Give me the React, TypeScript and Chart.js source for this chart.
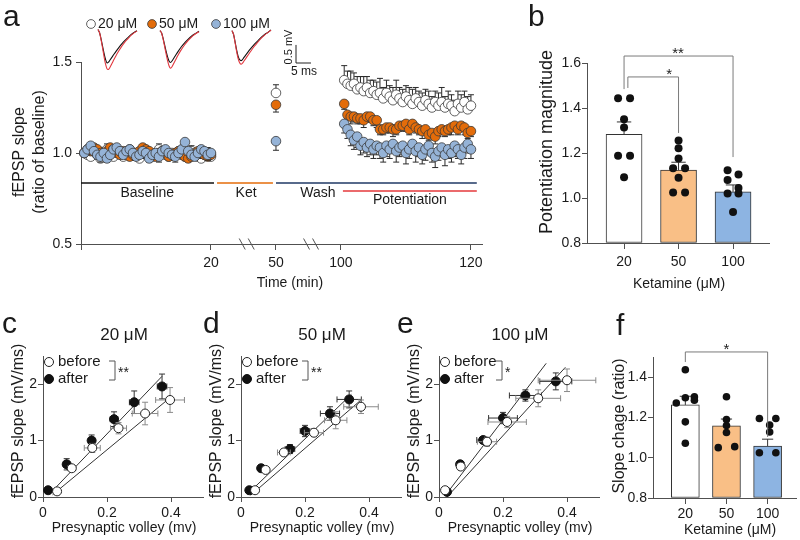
import React, { useEffect, useRef } from 'react';
import { Chart, registerables } from 'chart.js';

Chart.register(...registerables);

const W = 800;
const H = 540;
const FONT = '"Liberation Sans", Arial, Helvetica, sans-serif';
const TXT = '#1a1a1a';
const AX = '#505050';
Chart.defaults.font.family = FONT;
Chart.defaults.color = TXT;

/* ================= Panel a : time course ================= */
const baselineTimes = [0.5, 1, 1.5, 2, 2.5, 3, 3.5, 4, 4.5, 5, 5.5, 6, 6.5, 7, 7.5, 8, 8.5, 9, 9.5, 10, 10.5, 11, 11.5, 12, 12.5, 13, 13.5, 14, 14.5, 15, 15.5, 16, 16.5, 17, 17.5, 18, 18.5, 19, 19.5, 20];
const ketTimes = [50];
const potTimes = [100.5, 101, 101.5, 102, 102.5, 103, 103.5, 104, 104.5, 105, 105.5, 106, 106.5, 107, 107.5, 108, 108.5, 109, 109.5, 110, 110.5, 111, 111.5, 112, 112.5, 113, 113.5, 114, 114.5, 115, 115.5, 116, 116.5, 117, 117.5, 118, 118.5, 119, 119.5, 120];

const fepsp20Baseline = [1.00, 0.99, 0.98, 1.01, 0.99, 0.97, 1.00, 1.02, 0.99, 0.98, 1.01, 1.00, 0.98, 0.99, 1.02, 1.00, 0.99, 0.97, 1.00, 1.01, 0.99, 0.98, 1.00, 1.02, 1.01, 0.99, 0.98, 1.00, 0.99, 1.01, 1.00, 0.98, 0.99, 1.01, 1.00, 0.98, 0.97, 0.99, 1.00, 0.98];
const fepsp50Baseline = [1.00, 1.02, 1.01, 1.03, 1.02, 1.00, 0.99, 1.01, 1.03, 1.02, 1.00, 0.99, 1.01, 1.00, 0.98, 0.99, 1.00, 1.01, 1.03, 1.02, 1.01, 0.99, 0.98, 1.00, 1.01, 1.00, 0.98, 0.99, 1.00, 1.01, 0.99, 0.98, 0.97, 0.98, 0.99, 1.01, 1.00, 0.99, 0.98, 0.99];
const fepsp100Baseline = [1.00, 1.02, 1.04, 1.01, 0.99, 0.98, 1.00, 0.97, 0.99, 1.02, 1.03, 1.01, 0.99, 1.01, 1.02, 1.00, 0.98, 0.99, 1.01, 1.00, 0.97, 0.99, 1.00, 0.98, 1.01, 1.02, 1.00, 0.99, 0.98, 1.00, 1.02, 1.06, 1.01, 0.99, 0.98, 1.00, 1.02, 1.01, 0.99, 1.00];
const sem20Baseline = [0.02, 0.02, 0.03, 0.02, 0.02, 0.02, 0.03, 0.03, 0.02, 0.02, 0.02, 0.03, 0.02, 0.02, 0.02, 0.02, 0.02, 0.02, 0.03, 0.02, 0.02, 0.02, 0.02, 0.03, 0.02, 0.02, 0.02, 0.02, 0.02, 0.02, 0.02, 0.02, 0.02, 0.03, 0.02, 0.02, 0.02, 0.02, 0.03, 0.02];
const sem50Baseline = [0.02, 0.02, 0.02, 0.03, 0.02, 0.02, 0.02, 0.02, 0.03, 0.02, 0.02, 0.02, 0.02, 0.02, 0.02, 0.03, 0.02, 0.02, 0.02, 0.02, 0.02, 0.03, 0.02, 0.02, 0.02, 0.02, 0.02, 0.02, 0.03, 0.02, 0.02, 0.02, 0.02, 0.02, 0.03, 0.02, 0.02, 0.02, 0.02, 0.02];
const sem100Baseline = [0.02, 0.03, 0.02, 0.02, 0.02, 0.03, 0.02, 0.02, 0.02, 0.02, 0.03, 0.02, 0.02, 0.02, 0.03, 0.02, 0.02, 0.02, 0.02, 0.03, 0.02, 0.02, 0.02, 0.03, 0.02, 0.02, 0.02, 0.02, 0.03, 0.02, 0.02, 0.03, 0.02, 0.02, 0.02, 0.03, 0.02, 0.02, 0.03, 0.02];

const fepsp20Ket = [1.33];
const fepsp50Ket = [1.265];
const fepsp100Ket = [1.065];
const sem20Ket = [0.045];
const sem50Ket = [0.04];
const sem100Ket = [0.05];

const fepsp20Potentiation = [1.40, 1.38, 1.37, 1.38, 1.35, 1.36, 1.34, 1.36, 1.33, 1.34, 1.32, 1.33, 1.30, 1.33, 1.31, 1.29, 1.32, 1.30, 1.28, 1.31, 1.29, 1.27, 1.30, 1.28, 1.26, 1.29, 1.27, 1.25, 1.28, 1.26, 1.28, 1.25, 1.27, 1.26, 1.23, 1.27, 1.25, 1.28, 1.24, 1.26];
const fepsp50Potentiation = [1.27, 1.21, 1.20, 1.20, 1.19, 1.19, 1.18, 1.20, 1.20, 1.18, 1.18, 1.13, 1.13, 1.14, 1.14, 1.13, 1.13, 1.15, 1.15, 1.16, 1.13, 1.16, 1.14, 1.13, 1.12, 1.13, 1.10, 1.11, 1.09, 1.12, 1.13, 1.12, 1.13, 1.14, 1.15, 1.13, 1.15, 1.14, 1.11, 1.12];
const fepsp100Potentiation = [1.16, 1.13, 1.10, 1.07, 1.09, 1.04, 1.06, 1.03, 1.05, 1.02, 1.04, 1.03, 1.00, 1.04, 1.02, 1.05, 1.01, 1.03, 1.04, 1.00, 1.02, 1.05, 1.01, 1.03, 0.99, 1.02, 1.04, 1.00, 0.98, 1.01, 1.03, 0.99, 1.02, 1.00, 1.04, 1.02, 0.99, 1.03, 1.05, 1.02];
const sem20Potentiation = [0.08, 0.07, 0.08, 0.06, 0.07, 0.06, 0.08, 0.06, 0.07, 0.06, 0.07, 0.08, 0.06, 0.07, 0.06, 0.07, 0.08, 0.06, 0.07, 0.06, 0.07, 0.08, 0.06, 0.06, 0.07, 0.06, 0.07, 0.06, 0.06, 0.07, 0.08, 0.06, 0.07, 0.06, 0.06, 0.07, 0.07, 0.06, 0.07, 0.06];
const sem50Potentiation = [0.03, 0.03, 0.04, 0.03, 0.03, 0.03, 0.04, 0.03, 0.03, 0.03, 0.04, 0.03, 0.03, 0.03, 0.03, 0.04, 0.03, 0.03, 0.03, 0.04, 0.03, 0.03, 0.03, 0.03, 0.04, 0.03, 0.03, 0.03, 0.04, 0.03, 0.03, 0.03, 0.03, 0.04, 0.03, 0.03, 0.03, 0.04, 0.03, 0.03];
const sem100Potentiation = [0.05, 0.05, 0.06, 0.05, 0.06, 0.05, 0.06, 0.05, 0.06, 0.05, 0.05, 0.06, 0.05, 0.06, 0.05, 0.05, 0.06, 0.05, 0.05, 0.06, 0.05, 0.05, 0.06, 0.05, 0.05, 0.06, 0.05, 0.05, 0.06, 0.05, 0.05, 0.06, 0.05, 0.05, 0.06, 0.05, 0.05, 0.06, 0.05, 0.05];

const aSeriesNames = ['20 μM', '50 μM', '100 μM'];
const aFill = ['#FFFFFF', '#E36C0A', '#95B3D7'];
const aErrDir = ['up', 'down', 'down'];

const aTickTimes = [0, 20, 50, 100, 120];
const aTickLabels = ['', '20', '50', '100', '120'];
const aYTicks = [0.5, 1.0, 1.5];
const axisBreakTimes = [36.5, 77];
// broken time axis: [real start, real end, axis start, axis end]
const timeSegments = [
  [0, 20, 0, 20],
  [20, 50, 20, 30],
  [50, 100, 30, 40],
  [100, 130, 40, 70],
];

const phaseNames = ['Baseline', 'Ket', 'Wash', 'Potentiation'];
const phaseStart = [0, 22.8, 50, 100.3];
const phaseEnd = [21.4, 48.6, 120.9, 120.9];
const phaseLevel = [0.835, 0.835, 0.835, 0.791];
const phaseLabelTime = [10.2, 36.2, 82.3, 110.6];
const phaseLabelLevel = [0.78, 0.78, 0.78, 0.742];
const phaseColors = ['#111111', '#E46C0A', '#1F3864', '#E5383B'];

// example traces (ms, mV)
const traceTimes = [0, 0.5, 1, 1.5, 2, 2.5, 3, 3.5, 4, 5, 6, 7, 8, 9, 10, 11, 12, 13];
const trace20Before = [0, -0.08, -0.25, -0.45, -0.65, -0.82, -0.92, -0.9, -0.84, -0.72, -0.6, -0.49, -0.39, -0.3, -0.22, -0.14, -0.08, -0.03];
const trace20After = [0, -0.08, -0.27, -0.5, -0.74, -0.95, -1.08, -1.1, -1.04, -0.88, -0.72, -0.58, -0.45, -0.34, -0.25, -0.16, -0.09, -0.04];
const trace50Before = [0, -0.06, -0.2, -0.38, -0.56, -0.72, -0.84, -0.88, -0.84, -0.71, -0.58, -0.46, -0.36, -0.27, -0.19, -0.12, -0.07, -0.02];
const trace50After = [0, -0.06, -0.22, -0.42, -0.63, -0.82, -0.97, -1.04, -1.0, -0.84, -0.68, -0.54, -0.42, -0.31, -0.22, -0.14, -0.08, -0.03];
const trace100Before = [0, -0.1, -0.3, -0.52, -0.7, -0.8, -0.83, -0.8, -0.74, -0.63, -0.52, -0.42, -0.33, -0.25, -0.17, -0.1, -0.05, 0.02];
const trace100After = [0, -0.1, -0.32, -0.56, -0.76, -0.88, -0.93, -0.9, -0.84, -0.72, -0.6, -0.48, -0.38, -0.28, -0.19, -0.11, -0.05, 0.01];
const scaleBarMv = 0.5;
const scaleBarMs = 5;

/* ================= Panel b ================= */
const ketamineLabels = ['20', '50', '100'];
const potentiationMean = [1.283, 1.124, 1.027];
const potentiationSem = [0.055, 0.035, 0.031];
const potentiation20 = [1.443, 1.443, 1.35, 1.313, 1.188, 1.188, 1.092];
const jitterB20 = [-0.11, 0.11, 0, 0, -0.11, 0.11, 0];
const potentiation50 = [1.256, 1.221, 1.176, 1.132, 1.132, 1.09, 1.024, 1.024];
const jitterB50 = [0, 0, 0, -0.1, 0.12, 0, -0.1, 0.12];
const potentiation100 = [1.123, 1.105, 1.08, 1.045, 1.02, 1.02, 0.938];
const jitterB100 = [-0.1, 0.1, -0.1, 0.1, -0.1, 0.1, 0];
const bBrackets = [
  { from: 0, to: 2, level: 1.631, fromEnd: 1.484, toEnd: 1.182, label: '**', labelAt: 0.99 },
  { from: 0.07, to: 1, level: 1.538, fromEnd: 1.489, toEnd: 1.289, label: '*', labelAt: 0.83 },
];

/* ================= Panel f ================= */
const slopeMean = [1.262, 1.158, 1.058];
const slopeSem = [0.043, 0.034, 0.034];
const slope20 = [1.437, 1.272, 1.298, 1.302, 1.285, 1.178, 1.072];
const jitterF20 = [0, -0.22, 0, 0.22, 0.22, 0, 0];
const slope50 = [1.303, 1.19, 1.16, 1.125, 1.05, 1.055];
const jitterF50 = [0, 0, 0, 0, -0.2, 0.2];
const slope100 = [1.195, 1.195, 1.162, 1.128, 1.025, 1.025];
const jitterF100 = [-0.2, 0.2, 0.05, 0.05, -0.2, 0.2];
const fBrackets = [
  { from: 0, to: 2, level: 1.525, fromEnd: 1.475, toEnd: 1.103, label: '*', labelAt: 1 },
];

const barFills = ['#FFFFFF', '#F9BF86', '#8DB4E2'];

/* ================= Panels c, d, e ================= */
const cBeforeVolley = [0.044, 0.09, 0.154, 0.236, 0.319, 0.397];
const cBeforeSlope = [0.10, 0.51, 0.87, 1.22, 1.48, 1.72];
const cBeforeVolleySem = [0.008, 0.012, 0.025, 0.025, 0.04, 0.045];
const cBeforeSlopeSem = [0.03, 0.05, 0.08, 0.10, 0.20, 0.22];
const cAfterVolley = [0.016, 0.074, 0.152, 0.222, 0.285, 0.372];
const cAfterSlope = [0.12, 0.58, 1.00, 1.38, 1.68, 1.96];
const cAfterVolleySem = [0.005, 0.01, 0.01, 0.012, 0.015, 0.015];
const cAfterSlopeSem = [0.03, 0.10, 0.10, 0.13, 0.20, 0.22];
const cFitBeforeX = [0.03, 0.397];
const cFitBeforeY = [0.04, 1.76];
const cFitAfterX = [0.02, 0.372];
const cFitAfterY = [0.05, 2.14];

const dBeforeVolley = [0.044, 0.077, 0.134, 0.228, 0.296, 0.375];
const dBeforeSlope = [0.12, 0.48, 0.79, 1.14, 1.36, 1.60];
const dBeforeVolleySem = [0.005, 0.01, 0.02, 0.03, 0.035, 0.054];
const dBeforeSlopeSem = [0.02, 0.04, 0.05, 0.07, 0.15, 0.12];
const dAfterVolley = [0.026, 0.063, 0.153, 0.20, 0.278, 0.338];
const dAfterSlope = [0.12, 0.51, 0.85, 1.17, 1.48, 1.73];
const dAfterVolleySem = [0.005, 0.008, 0.015, 0.015, 0.03, 0.038];
const dAfterSlopeSem = [0.02, 0.05, 0.08, 0.10, 0.12, 0.15];
const dFitBeforeX = [0.03, 0.375];
const dFitBeforeY = [0.03, 1.72];
const dFitAfterX = [0.02, 0.345];
const dFitAfterY = [0.05, 1.82];

const eBeforeVolley = [0.019, 0.068, 0.15, 0.213, 0.31, 0.40];
const eBeforeSlope = [0.12, 0.54, 0.98, 1.33, 1.75, 2.07];
const eBeforeVolleySem = [0.005, 0.01, 0.03, 0.06, 0.07, 0.09];
const eBeforeSlopeSem = [0.02, 0.05, 0.08, 0.10, 0.15, 0.20];
const eAfterVolley = [0.025, 0.066, 0.138, 0.20, 0.27, 0.365];
const eAfterSlope = [0.09, 0.58, 1.01, 1.40, 1.80, 2.05];
const eAfterVolleySem = [0.004, 0.01, 0.02, 0.045, 0.05, 0.05];
const eAfterSlopeSem = [0.02, 0.04, 0.06, 0.10, 0.10, 0.15];
const eFitBeforeX = [0.025, 0.395];
const eFitBeforeY = [0.0, 2.30];
const eFitAfterX = [0.02, 0.335];
const eFitAfterY = [0.03, 2.37];

const ioXTicks = [0, 0.2, 0.4];
const ioXLabels = ['0', '0.2', '0.4'];
const ioYTicks = [0, 1, 2];
const ioYLabels = ['0', '1', '2'];

/* ================= helpers ================= */
function txt(ctx: any, s: string, x: number, y: number, size: number, align = 'center', baseline = 'middle', rot = 0, color = TXT) {
  ctx.save();
  ctx.font = `${size}px ${FONT}`;
  ctx.fillStyle = color;
  ctx.textAlign = align;
  ctx.textBaseline = baseline;
  ctx.translate(x, y);
  if (rot) ctx.rotate(rot);
  ctx.fillText(s, 0, 0);
  ctx.restore();
}
function seg(ctx: any, x1: number, y1: number, x2: number, y2: number) {
  ctx.beginPath();
  ctx.moveTo(x1, y1);
  ctx.lineTo(x2, y2);
  ctx.stroke();
}
function disc(ctx: any, x: number, y: number, r: number, fill: string, stroke: string, lw = 0.8) {
  ctx.beginPath();
  ctx.arc(x, y, r, 0, Math.PI * 2);
  ctx.fillStyle = fill;
  ctx.fill();
  if (stroke) {
    ctx.lineWidth = lw;
    ctx.strokeStyle = stroke;
    ctx.stroke();
  }
}
function timeToAxis(t: number) {
  for (const [a, b, c, d] of timeSegments) {
    if (t <= b) return c + ((t - a) * (d - c)) / (b - a);
  }
  return 70;
}

function drawErrors(chart: any, meta: any, ds: any) {
  const e = ds.err;
  if (!e) return;
  const ctx = chart.ctx;
  const xs = chart.scales[meta.xAxisID];
  const ys = chart.scales[meta.yAxisID];
  ctx.save();
  ctx.strokeStyle = e.color;
  ctx.lineWidth = e.width || 1;
  ds.data.forEach((d: any, i: number) => {
    const px = xs.getPixelForValue(d.x);
    const py = ys.getPixelForValue(d.y);
    if (e.y && e.y[i] > 0) {
      const v = e.y[i];
      if (e.dir !== 'down') {
        const y2 = ys.getPixelForValue(d.y + v);
        seg(ctx, px, py, px, y2);
        seg(ctx, px - e.cap, y2, px + e.cap, y2);
      }
      if (e.dir !== 'up') {
        const y2 = ys.getPixelForValue(d.y - v);
        seg(ctx, px, py, px, y2);
        seg(ctx, px - e.cap, y2, px + e.cap, y2);
      }
    }
    if (e.x && e.x[i] > 0) {
      const v = e.x[i];
      const x1 = xs.getPixelForValue(d.x - v);
      const x2 = xs.getPixelForValue(d.x + v);
      seg(ctx, x1, py, x2, py);
      seg(ctx, x1, py - e.cap, x1, py + e.cap);
      seg(ctx, x2, py - e.cap, x2, py + e.cap);
    }
  });
  ctx.restore();
}

const errorBarPlugin = {
  id: 'errorBars',
  beforeDatasetDraw(chart: any, args: any) {
    const ds = chart.data.datasets[args.index];
    if (ds.err && ds.err.phase !== 'after') drawErrors(chart, args.meta, ds);
  },
  afterDatasetDraw(chart: any, args: any) {
    const ds = chart.data.datasets[args.index];
    if (ds.err && ds.err.phase === 'after') drawErrors(chart, args.meta, ds);
  },
};

type Area = { l: number; t: number; r: number; b: number };

function xAxis(area: Area, min: number, max: number, ticks: number[], labels: string[], tick: number, pad: number) {
  return {
    type: 'linear',
    position: 'bottom',
    min,
    max,
    offset: false,
    afterFit: (s: any) => { s.height = H - area.b; },
    afterBuildTicks: (s: any) => { s.ticks = ticks.map((v) => ({ value: v })); },
    ticks: {
      autoSkip: false, maxRotation: 0, minRotation: 0, padding: pad, color: TXT,
      font: { size: 14, family: FONT },
      callback: (v: number) => {
        const i = ticks.findIndex((t) => Math.abs(t - v) < 1e-9);
        return i >= 0 ? labels[i] : '';
      },
    },
    grid: { display: true, offset: false, drawOnChartArea: false, drawTicks: true, tickLength: tick, color: AX, lineWidth: 1 },
    border: { display: true, color: AX, width: 1 },
  };
}
function yAxis(area: Area, min: number, max: number, ticks: number[], labels: string[], tick: number, pad: number) {
  return {
    type: 'linear',
    position: 'left',
    min,
    max,
    afterFit: (s: any) => { s.width = area.l; },
    afterBuildTicks: (s: any) => { s.ticks = ticks.map((v) => ({ value: v })); },
    ticks: {
      autoSkip: false, padding: pad, color: TXT,
      font: { size: 14, family: FONT },
      callback: (v: number) => {
        const i = ticks.findIndex((t) => Math.abs(t - v) < 1e-9);
        return i >= 0 ? labels[i] : '';
      },
    },
    grid: { display: true, drawOnChartArea: false, drawTicks: true, tickLength: tick, color: AX, lineWidth: 1 },
    border: { display: true, color: AX, width: 1 },
  };
}
function baseOptions(area: Area, scales: any) {
  return {
    responsive: false,
    animation: false,
    events: [],
    layout: { padding: { left: 0, top: area.t, right: W - area.r, bottom: 0 } },
    plugins: { legend: { display: false }, tooltip: { enabled: false }, title: { display: false } },
    scales,
  };
}

/* ================= Panel a chart ================= */
const aTimesAll = [...baselineTimes, ...ketTimes, ...potTimes];
const aValues = [
  [...fepsp20Baseline, ...fepsp20Ket, ...fepsp20Potentiation],
  [...fepsp50Baseline, ...fepsp50Ket, ...fepsp50Potentiation],
  [...fepsp100Baseline, ...fepsp100Ket, ...fepsp100Potentiation],
];
const aSems = [
  [...sem20Baseline, ...sem20Ket, ...sem20Potentiation],
  [...sem50Baseline, ...sem50Ket, ...sem50Potentiation],
  [...sem100Baseline, ...sem100Ket, ...sem100Potentiation],
];

const panelAPlugin = {
  id: 'panelA',
  afterDraw(chart: any) {
    const ctx = chart.ctx;
    const xs = chart.scales.x;
    const ys = chart.scales.y;
    ctx.save();
    // phases
    phaseNames.forEach((name, i) => {
      ctx.strokeStyle = phaseColors[i];
      ctx.lineWidth = 1.5;
      const y = ys.getPixelForValue(phaseLevel[i]);
      seg(ctx, xs.getPixelForValue(timeToAxis(phaseStart[i])), y, xs.getPixelForValue(timeToAxis(phaseEnd[i])), y);
      txt(ctx, name, xs.getPixelForValue(timeToAxis(phaseLabelTime[i])), ys.getPixelForValue(phaseLabelLevel[i]), 14);
    });
    // axis breaks
    ctx.strokeStyle = AX;
    ctx.lineWidth = 1;
    axisBreakTimes.forEach((t) => {
      const x = xs.getPixelForValue(timeToAxis(t));
      const y = ys.bottom;
      seg(ctx, x - 7.5, y - 5.5, x - 1.5, y + 5.5);
      seg(ctx, x + 1.5, y - 5.5, x + 7.5, y + 5.5);
    });
    ctx.restore();
    // letter, titles, legend
    txt(ctx, 'a', 3, 26, 30, 'left', 'alphabetic');
    txt(ctx, 'fEPSP slope', 20, 152, 16, 'center', 'middle', -Math.PI / 2);
    txt(ctx, '(ratio of baseline)', 40, 152, 16, 'center', 'middle', -Math.PI / 2);
    txt(ctx, 'Time (min)', 290, 283, 14);
    const legX = [91, 152, 216];
    aSeriesNames.forEach((n, i) => {
      disc(ctx, legX[i], 24, 4.4, aFill[i], '#3a3a3a');
      txt(ctx, n, legX[i] + 7, 24, 14, 'left');
    });
  },
};

function makePanelA(canvas: HTMLCanvasElement) {
  const area = { l: 81, t: 62, r: 482, b: 244 };
  const uTicks = aTickTimes.map(timeToAxis);
  return new Chart(canvas as any, {
    type: 'scatter',
    data: {
      datasets: aValues.map((vals, s) => ({
        label: aSeriesNames[s],
        data: aTimesAll.map((t, i) => ({ x: timeToAxis(t), y: vals[i] })),
        pointRadius: 4.8,
        pointBackgroundColor: aFill[s],
        pointBorderColor: '#3a3a3a',
        pointBorderWidth: 0.8,
        order: 3 - s,
        clip: false,
        err: { y: aSems[s], dir: aErrDir[s], cap: 3, color: '#2a2a2a', width: 1 },
      })),
    } as any,
    options: baseOptions(area, {
      x: xAxis(area, 0, timeToAxis(121.7), uTicks, aTickLabels, 6, 5),
      y: yAxis(area, 0.5, 1.5, aYTicks, ['0.5', '1.0', '1.5'], 5, 4),
    }) as any,
    plugins: [errorBarPlugin, panelAPlugin],
  });
}

/* traces */
const scaleBarPlugin = {
  id: 'scaleBar',
  afterDraw(chart: any) {
    const ctx = chart.ctx;
    const xs = chart.scales.x;
    const ys = chart.scales.y;
    const pxMs = xs.getPixelForValue(scaleBarMs) - xs.getPixelForValue(0);
    const pxMv = ys.getPixelForValue(0) - ys.getPixelForValue(scaleBarMv);
    const x0 = 296;
    const y0 = 63;
    ctx.save();
    ctx.strokeStyle = '#222';
    ctx.lineWidth = 1;
    seg(ctx, x0, y0, x0, y0 - pxMv);
    seg(ctx, x0, y0, x0 + pxMs, y0);
    ctx.restore();
    txt(ctx, `${scaleBarMv} mV`, 289, 47, 11, 'center', 'middle', -Math.PI / 2);
    txt(ctx, `${scaleBarMs} ms`, 304, 72, 12);
  },
};
function makeTrace(box: Area, before: number[], after: number[], bar: boolean) {
  return (canvas: HTMLCanvasElement) =>
    new Chart(canvas as any, {
      type: 'line',
      data: {
        datasets: [
          { data: traceTimes.map((t, i) => ({ x: t, y: before[i] })), borderColor: '#111111', borderWidth: 1.1, pointRadius: 0, tension: 0.3, clip: false, order: 2 },
          { data: traceTimes.map((t, i) => ({ x: t, y: after[i] })), borderColor: '#E2383F', borderWidth: 1.1, pointRadius: 0, tension: 0.3, clip: false, order: 1 },
        ],
      } as any,
      options: {
        responsive: false,
        animation: false,
        events: [],
        layout: { padding: { left: box.l, top: box.t, right: W - box.r, bottom: H - box.b } },
        plugins: { legend: { display: false }, tooltip: { enabled: false } },
        scales: {
          x: { type: 'linear', display: false, min: 0, max: 13 },
          y: { type: 'linear', display: false, min: -1.2, max: 0.1 },
        },
      } as any,
      plugins: bar ? [scaleBarPlugin] : [],
    });
}
const makeTrace20 = makeTrace({ l: 98, t: 26, r: 137, b: 73 }, trace20Before, trace20After, false);
const makeTrace50 = makeTrace({ l: 160, t: 27, r: 199, b: 74 }, trace50Before, trace50After, false);
const makeTrace100 = makeTrace({ l: 232, t: 27, r: 271, b: 74 }, trace100Before, trace100After, true);

/* ================= bar panels (b, f) ================= */
function bracketPlugin(brackets: any[]) {
  return {
    id: 'brackets',
    afterDraw(chart: any) {
      const ctx = chart.ctx;
      const xs = chart.scales.x;
      const ys = chart.scales.y;
      ctx.save();
      ctx.strokeStyle = '#7a7a7a';
      ctx.lineWidth = 1;
      brackets.forEach((b) => {
        const x1 = xs.getPixelForValue(b.from);
        const x2 = xs.getPixelForValue(b.to);
        const y = ys.getPixelForValue(b.level);
        ctx.beginPath();
        ctx.moveTo(x1, ys.getPixelForValue(b.fromEnd));
        ctx.lineTo(x1, y);
        ctx.lineTo(x2, y);
        ctx.lineTo(x2, ys.getPixelForValue(b.toEnd));
        ctx.stroke();
        txt(ctx, b.label, xs.getPixelForValue(b.labelAt), y - 2, 15, 'center', 'middle');
      });
      ctx.restore();
    },
  };
}
function dotsData(groups: number[][], jitters: number[][]) {
  const out: any[] = [];
  groups.forEach((g, gi) => g.forEach((v, i) => out.push({ x: gi + jitters[gi][i], y: v })));
  return out;
}
function makeBarChart(canvas: HTMLCanvasElement, area: Area, xmin: number, xmax: number, ymax: number, yTicks: number[],
  means: number[], sems: number[], groups: number[][], jitters: number[][], barW: number, dotR: number, brackets: any[], deco: any) {
  return new Chart(canvas as any, {
    type: 'bar',
    data: {
      datasets: [
        {
          type: 'bar',
          data: means.map((m, i) => ({ x: i, y: m })),
          backgroundColor: barFills,
          borderColor: '#333333',
          borderWidth: 1,
          borderSkipped: false,
          barThickness: barW,
          base: 0.8,
          order: 2,
          err: { y: sems, dir: 'up', cap: barW * 0.2, color: '#333333', width: 1, phase: 'after' },
        },
        {
          type: 'scatter',
          data: dotsData(groups, jitters),
          pointRadius: dotR,
          pointBackgroundColor: '#111111',
          pointBorderWidth: 0,
          clip: false,
          order: 1,
        },
      ],
    } as any,
    options: baseOptions(area, {
      x: xAxis(area, xmin, xmax, [0, 1, 2], ketamineLabels, 6, area.b > 400 ? 2 : 5),
      y: yAxis(area, 0.8, ymax, yTicks, yTicks.map((v) => v.toFixed(1)), 5, 1),
    }) as any,
    plugins: [errorBarPlugin, bracketPlugin(brackets), deco],
  });
}
function makePanelB(canvas: HTMLCanvasElement) {
  const area = { l: 587, t: 63, r: 769, b: 243 };
  const deco = {
    id: 'decoB',
    afterDraw(chart: any) {
      const ctx = chart.ctx;
      txt(ctx, 'b', 528, 26, 30, 'left', 'alphabetic');
      txt(ctx, 'Potentiation magnitude', 547, 142, 18, 'center', 'middle', -Math.PI / 2);
      txt(ctx, 'Ketamine (μM)', 679, 284, 14);
    },
  };
  return makeBarChart(canvas, area, -0.68, 2.66, 1.6, [0.8, 1.0, 1.2, 1.4, 1.6], potentiationMean, potentiationSem,
    [potentiation20, potentiation50, potentiation100], [jitterB20, jitterB50, jitterB100], 36, 4, bBrackets, deco);
}
function makePanelF(canvas: HTMLCanvasElement) {
  const area = { l: 653, t: 357, r: 799, b: 498 };
  const deco = {
    id: 'decoF',
    afterDraw(chart: any) {
      const ctx = chart.ctx;
      txt(ctx, 'f', 616, 335, 30, 'left', 'alphabetic');
      txt(ctx, 'Slope chage (ratio)', 620, 426, 16, 'center', 'middle', -Math.PI / 2);
      txt(ctx, 'Ketamine (μM)', 730, 530, 14);
    },
  };
  return makeBarChart(canvas, area, -0.786, 2.69, 1.5, [0.8, 1.0, 1.2, 1.4], slopeMean, slopeSem,
    [slope20, slope50, slope100], [jitterF20, jitterF50, jitterF100], 28, 3.8, fBrackets, deco);
}

/* ================= input-output panels (c, d, e) ================= */
const ioPanels = [
  {
    area: { l: 43, t: 356, r: 203, b: 497 }, letter: 'c', letterX: 2, title: '20 μM', bracketX: 115, star: '**',
    bv: cBeforeVolley, bs: cBeforeSlope, bve: cBeforeVolleySem, bse: cBeforeSlopeSem,
    av: cAfterVolley, as: cAfterSlope, ave: cAfterVolleySem, ase: cAfterSlopeSem,
    fbx: cFitBeforeX, fby: cFitBeforeY, fax: cFitAfterX, fay: cFitAfterY,
  },
  {
    area: { l: 241, t: 356, r: 401, b: 497 }, letter: 'd', letterX: 203, title: '50 μM', bracketX: 308, star: '**',
    bv: dBeforeVolley, bs: dBeforeSlope, bve: dBeforeVolleySem, bse: dBeforeSlopeSem,
    av: dAfterVolley, as: dAfterSlope, ave: dAfterVolleySem, ase: dAfterSlopeSem,
    fbx: dFitBeforeX, fby: dFitBeforeY, fax: dFitAfterX, fay: dFitAfterY,
  },
  {
    area: { l: 439, t: 356, r: 599, b: 497 }, letter: 'e', letterX: 397, title: '100 μM', bracketX: 502, star: '*',
    bv: eBeforeVolley, bs: eBeforeSlope, bve: eBeforeVolleySem, bse: eBeforeSlopeSem,
    av: eAfterVolley, as: eAfterSlope, ave: eAfterVolleySem, ase: eAfterSlopeSem,
    fbx: eFitBeforeX, fby: eFitBeforeY, fax: eFitAfterX, fay: eFitAfterY,
  },
];

function makeIO(p: any) {
  return (canvas: HTMLCanvasElement) => {
    const a = p.area;
    const deco = {
      id: 'decoIO',
      afterDraw(chart: any) {
        const ctx = chart.ctx;
        const cx = (a.l + a.r) / 2;
        txt(ctx, p.letter, p.letterX, 333, 30, 'left', 'alphabetic');
        txt(ctx, p.title, cx + 1, 335, 17);
        txt(ctx, 'fEPSP slope (mV/ms)', a.l - 24, 421, 16, 'center', 'middle', -Math.PI / 2);
        txt(ctx, 'Presynaptic volley (mv)', cx + 1, 528, 14);
        // legend
        ctx.save();
        disc(ctx, a.l + 6, 362, 4.5, '#FFFFFF', '#222222', 1);
        disc(ctx, a.l + 6, 379, 4.5, '#111111', '#111111', 1);
        txt(ctx, 'before', a.l + 15, 362, 15, 'left');
        txt(ctx, 'after', a.l + 15, 379, 15, 'left');
        ctx.strokeStyle = '#555555';
        ctx.lineWidth = 1;
        ctx.beginPath();
        ctx.moveTo(p.bracketX - 6, 361);
        ctx.lineTo(p.bracketX, 361);
        ctx.lineTo(p.bracketX, 380);
        ctx.lineTo(p.bracketX - 6, 380);
        ctx.stroke();
        ctx.restore();
        txt(ctx, p.star, p.bracketX + 3, 373, 14, 'left');
      },
    };
    return new Chart(canvas as any, {
      type: 'scatter',
      data: {
        datasets: [
          { data: p.fbx.map((x: number, i: number) => ({ x, y: p.fby[i] })), showLine: true, borderColor: '#333333', borderWidth: 1, pointRadius: 0, order: 4, clip: false },
          { data: p.fax.map((x: number, i: number) => ({ x, y: p.fay[i] })), showLine: true, borderColor: '#333333', borderWidth: 1, pointRadius: 0, order: 3, clip: false },
          {
            data: p.av.map((x: number, i: number) => ({ x, y: p.as[i] })),
            pointRadius: 4.5, pointBackgroundColor: '#111111', pointBorderColor: '#111111', pointBorderWidth: 1, order: 2, clip: false,
            err: { x: p.ave, y: p.ase, dir: 'both', cap: 3, color: '#333333', width: 1 },
          },
          {
            data: p.bv.map((x: number, i: number) => ({ x, y: p.bs[i] })),
            pointRadius: 4.5, pointBackgroundColor: '#FFFFFF', pointBorderColor: '#222222', pointBorderWidth: 1, order: 1, clip: false,
            err: { x: p.bve, y: p.bse, dir: 'both', cap: 3, color: '#8a8a8a', width: 1 },
          },
        ],
      } as any,
      options: baseOptions(a, {
        x: xAxis(a, 0, 0.5, ioXTicks, ioXLabels, 5, 3),
        y: yAxis(a, 0, 2.5, ioYTicks, ioYLabels, 5, 1),
      }) as any,
      plugins: [errorBarPlugin, deco],
    });
  };
}
const makePanelC = makeIO(ioPanels[0]);
const makePanelD = makeIO(ioPanels[1]);
const makePanelE = makeIO(ioPanels[2]);

/* ================= React ================= */
function Layer({ build }: { build: (c: HTMLCanvasElement) => Chart }) {
  const ref = useRef<HTMLCanvasElement | null>(null);
  useEffect(() => {
    const chart = build(ref.current as HTMLCanvasElement);
    return () => chart.destroy();
  }, [build]);
  return (
    <canvas
      ref={ref}
      width={W}
      height={H}
      style={{ position: 'absolute', left: 0, top: 0, width: W, height: H }}
    />
  );
}

const builders = [makePanelA, makeTrace20, makeTrace50, makeTrace100, makePanelB, makePanelC, makePanelD, makePanelE, makePanelF];

export default function App() {
  return (
    <div style={{ position: 'absolute', left: 0, top: 0, width: W, height: H, background: '#ffffff', overflow: 'hidden' }}>
      {builders.map((b, i) => (
        <Layer key={i} build={b} />
      ))}
    </div>
  );
}
